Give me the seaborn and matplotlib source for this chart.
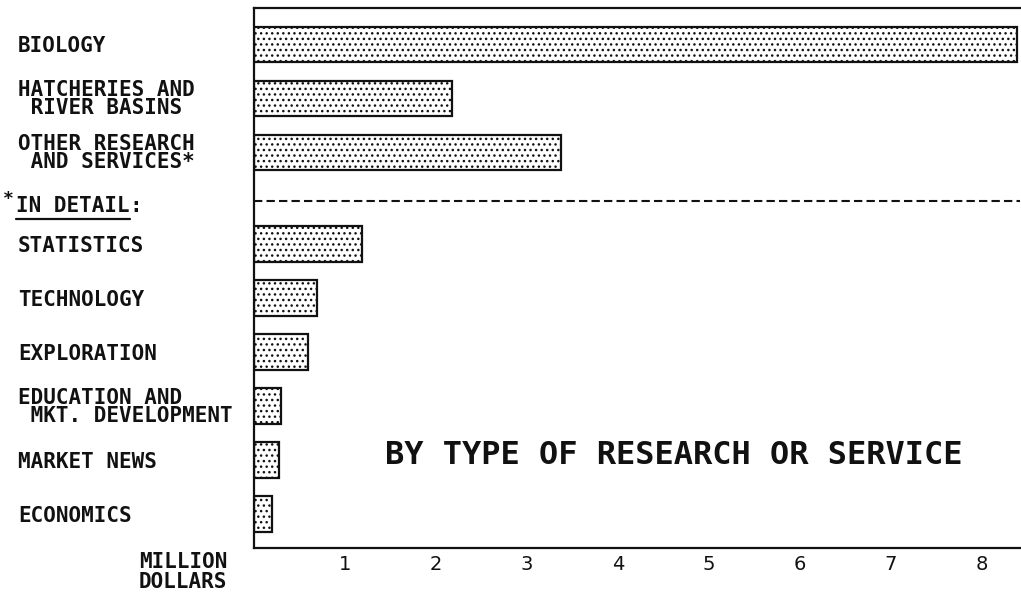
import numpy as np
import matplotlib
matplotlib.use("Agg")
import matplotlib.pyplot as plt
from matplotlib.lines import Line2D
import seaborn as sns

categories = ["BIOLOGY", "HATCHERIES AND\n RIVER BASINS", "OTHER RESEARCH\n AND SERVICES*",
              "STATISTICS", "TECHNOLOGY", "EXPLORATION",
              "EDUCATION AND\n MKT. DEVELOPMENT", "MARKET NEWS", "ECONOMICS"]
values = [8.38, 2.18, 3.37, 1.19, 0.69, 0.59, 0.30, 0.27, 0.20]
xticks = [1, 2, 3, 4, 5, 6, 7, 8]

sns.set_style("white")
plt.rcParams["font.family"] = ["DejaVu Sans Mono"]
plt.rcParams["font.weight"] = "bold"
plt.rcParams["hatch.linewidth"] = 1.0
plt.rcParams["hatch.color"] = "#222222"

INK = "#111111"
LAB = 15
W, H = 1021, 594
fig = plt.figure(figsize=(W / 100, H / 100), dpi=100)
ax = fig.add_axes([254 / W, 1 - 548 / H, (1020 - 254) / W, (548 - 8) / H])

idx = np.arange(len(categories))
slot = idx + np.where(idx >= 3, 0.7, 0.0)

sns.barplot(x=values, y=slot, orient="y", native_scale=True, width=0.65,
            color="white", edgecolor=INK, linewidth=1.6, hatch="...",
            saturation=1, ax=ax)

ax.set_xlim(0, (1020 - 254) / 91)
ax.set_ylim(9.33, -0.67)

# dashed separator
ax.axhline(2.91, color=INK, lw=1.5, linestyle=(0, (4, 2)))

for s in ["left", "bottom", "top"]:
    ax.spines[s].set_visible(True)
    ax.spines[s].set_linewidth(1.6)
    ax.spines[s].set_color(INK)
ax.spines["right"].set_visible(False)

ax.set_yticks(slot, categories)
ax.tick_params(axis="y", length=0, pad=170, labelsize=LAB, labelcolor=INK)
for lab in ax.get_yticklabels():
    lab.set_horizontalalignment("left")
    lab.set_linespacing(0.85)
    lab.set_fontweight("bold")

ax.set_xticks(xticks, [str(v) for v in xticks])
ax.tick_params(axis="x", direction="in", length=8, width=1.3, pad=5,
               labelsize=14, labelcolor=INK, color=INK)
for lab in ax.get_xticklabels():
    lab.set_fontfamily("DejaVu Sans")
    lab.set_fontweight("normal")
ax.set_xlabel("")
ax.set_ylabel("")

fig.text(674 / W, 1 - 455 / H, "BY TYPE OF RESEARCH OR SERVICE",
         ha="center", va="center", fontsize=23, color=INK, fontweight="bold")

fig.text(183 / W, 1 - 572 / H, "MILLION\nDOLLARS", ha="center", va="center",
         fontsize=LAB, color=INK, linespacing=1.0, fontweight="bold")

# "*IN DETAIL:" header with underline
fig.text(8 / W, 1 - 199 / H, "*", ha="center", va="center", fontsize=13, color=INK,
         fontweight="bold")
t = fig.text(16 / W, 1 - 206 / H, "IN DETAIL", ha="left", va="center",
             fontsize=LAB, color=INK, fontweight="bold")
fig.canvas.draw()
bb = t.get_window_extent()
fig.text(bb.x1 / W, 1 - 206 / H, ":", ha="left", va="center", fontsize=LAB, color=INK,
         fontweight="bold")
fig.add_artist(Line2D([bb.x0 / W, bb.x1 / W], [(bb.y0 - 3) / H, (bb.y0 - 3) / H],
                      transform=fig.transFigure, color=INK, lw=1.6))

fig.savefig("out.png", dpi=100, facecolor="white")
